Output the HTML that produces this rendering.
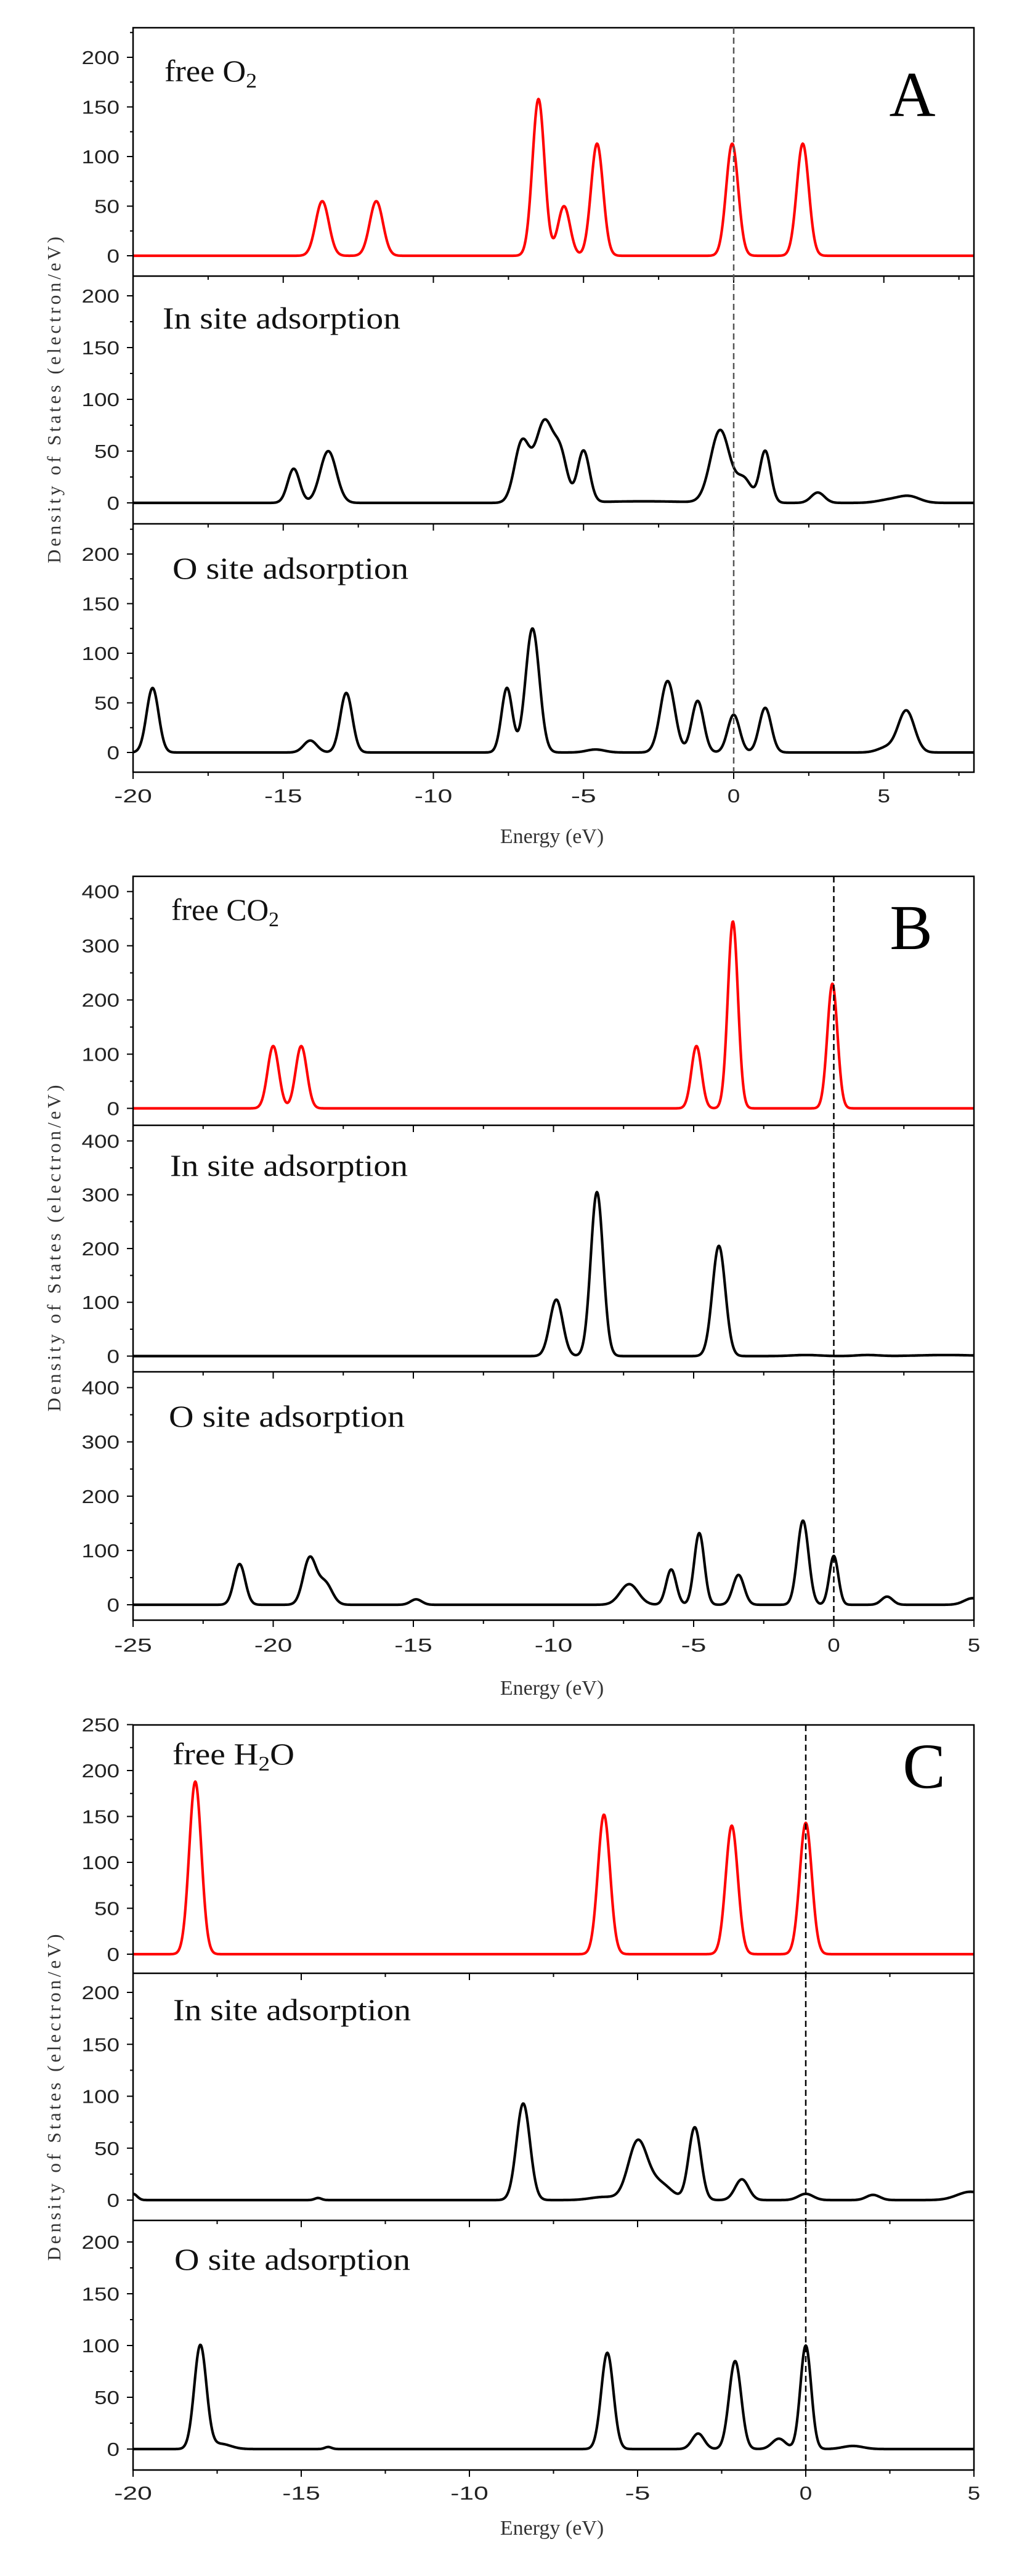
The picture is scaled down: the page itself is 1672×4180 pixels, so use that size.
<!DOCTYPE html>
<html><head><meta charset="utf-8">
<style>
html,body{margin:0;padding:0;background:#fff;}
#c{width:1672px;height:4180px;position:relative;}
svg{display:block;}
</style></head>
<body><div id="c"></div>
<script>
var L=216,R=1581,W=1672,H=4180;
var s='<svg xmlns="http://www.w3.org/2000/svg" width="'+W+'" height="'+H+'" viewBox="0 0 '+W+' '+H+'">';
function g(x,p){var y=0;for(var i=0;i<p.length;i++){var d=(x-p[i][0])/p[i][2];y+=p[i][1]*Math.exp(-0.5*d*d);}return y;}
function panel(P){
  var xm=P.xmin,xM=P.xmax;
  function X(e){return L+(e-xm)/(xM-xm)*(R-L);}
  var rows=P.rows;
  for(var r=0;r<rows.length;r++){
    var o=rows[r];
    var upx=(o.zero-o.topv)/o.topval;
    function Y(v){return o.zero-v*upx;}
    var d='';
    for(var px=L;px<=R;px+=1){var e=xm+(px-L)/(R-L)*(xM-xm);var yy=Y(g(e,o.peaks));d+=(px==L?'M':'L')+px+' '+yy.toFixed(1);}
    s+='<path d="'+d+'" fill="none" stroke="'+o.color+'" stroke-width="4.2" stroke-linejoin="round"/>';
    for(var v=0;v<=o.max;v+=o.step){var yy=Y(v);
      s+='<line x1="206" y1="'+yy+'" x2="'+L+'" y2="'+yy+'" stroke="#000" stroke-width="2"/>';
      var t=String(v);
      s+='<text x="194" y="'+(yy+11)+'" text-anchor="end" font-family="Liberation Sans, sans-serif" font-size="31" fill="#222" textLength="'+(t.length*20.5)+'" lengthAdjust="spacingAndGlyphs">'+t+'</text>';
    }
    for(var v=-o.step/2;v<=o.max+o.step;v+=o.step){var ym=Y(v);
      if(ym>o.top+3&&ym<o.bot-3) s+='<line x1="211" y1="'+ym+'" x2="'+L+'" y2="'+ym+'" stroke="#000" stroke-width="2"/>';}
    for(var e=Math.ceil(xm/2.5)*2.5;e<=xM;e+=2.5){var xx=X(e);var maj=Math.abs(e/5-Math.round(e/5))<1e-6;
      if(r>0) s+='<line x1="'+xx+'" y1="'+o.top+'" x2="'+xx+'" y2="'+(o.top+(maj?11:6))+'" stroke="#000" stroke-width="2"/>';
      if(r==rows.length-1) s+='<line x1="'+xx+'" y1="'+o.bot+'" x2="'+xx+'" y2="'+(o.bot+(maj?11:6))+'" stroke="#000" stroke-width="2"/>';
    }
    s+='<text x="'+o.lx+'" y="'+o.ly+'" font-family="Liberation Serif, serif" font-size="50" fill="#111" textLength="'+o.lw+'" lengthAdjust="spacingAndGlyphs">'+o.label+'</text>';
  }
  var top=rows[0].top,bot=rows[rows.length-1].bot;
  s+='<rect x="'+L+'" y="'+top+'" width="'+(R-L)+'" height="'+(bot-top)+'" fill="none" stroke="#000" stroke-width="2.5"/>';
  for(var r=1;r<rows.length;r++) s+='<line x1="'+L+'" y1="'+rows[r].top+'" x2="'+R+'" y2="'+rows[r].top+'" stroke="#000" stroke-width="2.5"/>';
  var x0=X(0);
  s+='<line x1="'+x0+'" y1="'+top+'" x2="'+x0+'" y2="'+bot+'" stroke="'+P.dash+'" stroke-width="2.5" stroke-dasharray="10,6"/>';
  for(var e=Math.ceil(xm/5)*5;e<=xM;e+=5){var t=String(e);
    s+='<text x="'+X(e)+'" y="'+P.tly+'" text-anchor="middle" font-family="Liberation Sans, sans-serif" font-size="31" fill="#222" textLength="'+(t.length*20.5)+'" lengthAdjust="spacingAndGlyphs">'+t+'</text>';}
  s+='<text x="896" y="'+P.ely+'" text-anchor="middle" font-family="Liberation Serif, serif" font-size="34" fill="#333">Energy (eV)</text>';
  var cy=(top+bot)/2;
  s+='<text transform="translate(98,'+cy+') rotate(-90)" text-anchor="middle" font-family="Liberation Serif, serif" font-size="31" fill="#333" textLength="530" lengthAdjust="spacing">Density of States (electron/eV)</text>';
  s+='<text x="'+P.px+'" y="'+P.py+'" text-anchor="middle" font-family="Liberation Serif, serif" font-size="104" fill="#000">'+P.plabel+'</text>';
}
var red='#f00',blk='#000';
var sub='<tspan font-size="34" dy="10">2</tspan>';
panel({xmin:-20,xmax:8,dash:'#555',tly:1302,ely:1368,px:1481,py:188,plabel:'A',rows:[
 {top:45,bot:448,zero:415,topv:93,topval:200,max:200,step:50,color:red,label:'free O'+sub,lx:267,ly:132,lw:150,
  peaks:[[-13.7,55,.22],[-11.9,55,.22],[-6.5,158,.2],[-5.65,50,.2],[-4.55,113,.2],[-0.05,113,.2],[2.3,113,.2]]},
 {top:448,bot:850,zero:816,topv:480,topval:200,max:200,step:50,color:blk,label:'In site adsorption',lx:264,ly:533,lw:386,
  peaks:[[-14.65,33,.2],[-13.5,50,.27],[-7.05,58,.25],[-6.3,78,.3],[-5.75,40,.22],[-5.0,50,.2],[-0.45,70,.32],[0.35,22,.25],[1.05,50,.18],[2.8,10,.22],[5.85,6,.35],[5.2,3,.4],[-3,1.5,1.5]]},
 {top:850,bot:1253,zero:1221,topv:899,topval:200,max:200,step:50,color:blk,label:'O site adsorption',lx:280,ly:939,lw:383,
  peaks:[[-19.35,65,.2],[-14.1,12,.22],[-12.9,60,.2],[-7.55,65,.18],[-6.7,125,.23],[-4.6,3,.3],[-2.2,72,.24],[-1.2,52,.2],[0,38,.2],[1.05,45,.2],[5.75,42,.27],[5.1,5,.3]]}
]});
panel({xmin:-25,xmax:5,dash:'#000',tly:2680,ely:2750,px:1479,py:1540,plabel:'B',rows:[
 {top:1422,bot:1826,zero:1798.5,topv:1446.7,topval:400,max:400,step:100,color:red,label:'free CO'+sub,lx:278,ly:1493,lw:175,
  peaks:[[-20,115,.2],[-19,115,.2],[-4.9,115,.18],[-3.6,345,.18],[-0.05,230,.18]]},
 {top:1826,bot:2226,zero:2200.5,topv:1851.4,topval:400,max:400,step:100,color:blk,label:'In site adsorption',lx:276,ly:1908,lw:386,
  peaks:[[-9.9,105,.23],[-8.45,305,.22],[-4.1,205,.23],[-1,2,.5],[1.2,2,.4],[4,2,1]]},
 {top:2226,bot:2629,zero:2604,topv:2251.6,topval:400,max:400,step:100,color:blk,label:'O site adsorption',lx:274,ly:2315,lw:383,
  peaks:[[-21.2,75,.2],[-18.7,85,.23],[-18.15,40,.25],[-14.9,10,.2],[-7.3,38,.32],[-5.8,65,.18],[-4.8,132,.18],[-3.4,55,.2],[-1.1,155,.2],[0,90,.16],[1.9,15,.2],[4.95,12,.3]]}
]});
panel({xmin:-20,xmax:5,dash:'#000',tly:4056,ely:4113,px:1500,py:2901,plabel:'C',rows:[
 {top:2799,bot:3202,zero:3171,topv:2798.5,topval:250,max:250,step:50,color:red,label:'free H'+sub+'<tspan dy="-10">O</tspan>',lx:280,ly:2863,lw:198,
  peaks:[[-18.15,188,.18],[-6.0,152,.18],[-2.2,140,.18],[0,143,.18]]},
 {top:3202,bot:3603,zero:3570,topv:3233,topval:200,max:200,step:50,color:blk,label:'In site adsorption',lx:281,ly:3278,lw:386,
  peaks:[[-20,6,.12],[-14.5,2,.1],[-8.4,93,.2],[-6,3,.4],[-5.0,55,.28],[-4.35,16,.35],[-3.3,70,.18],[-1.9,20,.2],[0,6,.22],[2,5,.2],[4.9,8,.4]]},
 {top:3603,bot:4008,zero:3974,topv:3638,topval:200,max:200,step:50,color:blk,label:'O site adsorption',lx:283,ly:3683,lw:383,
  peaks:[[-18,100,.18],[-17.4,5,.3],[-14.2,2,.1],[-5.9,93,.18],[-3.2,15,.18],[-2.1,85,.18],[-0.8,10,.2],[0,100,.16],[1.4,3,.3]]}
]});
s+='</svg>';
document.getElementById('c').innerHTML=s;
</script>
</body></html>
